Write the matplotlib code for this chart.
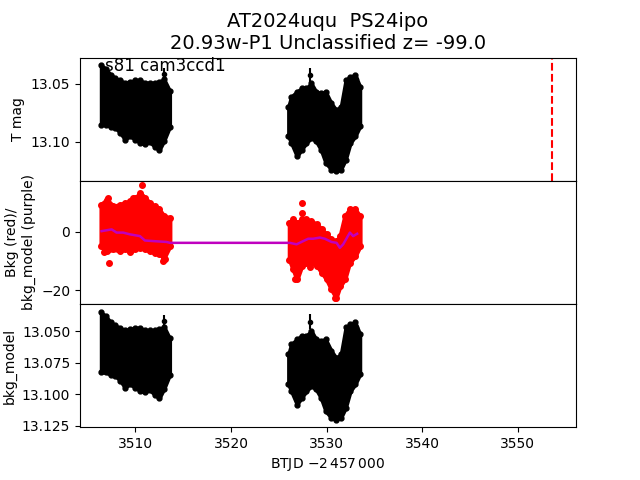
import matplotlib
matplotlib.use("Agg")
import matplotlib.pyplot as plt
import numpy as np

title_text = "AT2024uqu  PS24ipo\n20.93w-P1 Unclassified z= -99.0"
sector_text = "s81 cam3ccd1"
t_event = 3553.64

# light curve envelopes (T mag)
t1 = [3506.4, 3506.9, 3507.4, 3507.9, 3508.4, 3508.9, 3509.4, 3510.0,
      3510.5, 3511.0, 3511.5, 3512.0, 3512.5, 3513.0, 3513.6]
mag1_hi = [13.0337, 13.037, 13.042, 13.045, 13.047, 13.049, 13.048, 13.047,
           13.047, 13.049, 13.049, 13.049, 13.048, 13.046, 13.056]
mag1_lo = [13.085, 13.085, 13.087, 13.088, 13.092, 13.098, 13.095, 13.098,
           13.101, 13.102, 13.100, 13.104, 13.107, 13.099, 13.087]

t2 = [3526.0, 3526.3, 3526.9, 3527.4, 3527.9, 3528.4, 3528.9, 3529.4,
      3529.9, 3530.5, 3531.0, 3531.5, 3532.0, 3532.5, 3533.0, 3533.5]
mag2_hi = [13.0695, 13.061, 13.0566, 13.0537, 13.0537, 13.0494, 13.0566, 13.058,
           13.0566, 13.0666, 13.0723, 13.0695, 13.0466, 13.0437, 13.0423, 13.0523]
mag2_lo = [13.0952, 13.1009, 13.1124, 13.1066, 13.1009, 13.0966, 13.0995, 13.1066,
           13.118, 13.1238, 13.1252, 13.1238, 13.1152, 13.1009, 13.0952, 13.0866]

# a few points sticking out with error bars
t_spike = [3513.0, 3528.25, 3533.1]
mag_spike = [13.0417, 13.0423, 13.046]
err_spike = [0.005, 0.006, 0.004]

# bottom panel envelopes (bkg_model)
bm1_hi = [13.0348, 13.0379, 13.0426, 13.0453, 13.0472, 13.0491, 13.0481, 13.0472,
          13.0472, 13.0491, 13.0491, 13.0491, 13.0481, 13.0463, 13.0556]
bm1_lo = [13.0826, 13.0826, 13.0844, 13.0854, 13.0891, 13.0947, 13.0919, 13.0947,
          13.0975, 13.0984, 13.0965, 13.1003, 13.1030, 13.0956, 13.0844]
bm2_hi = [13.0681, 13.0602, 13.0561, 13.0534, 13.0534, 13.0494, 13.0561, 13.0574,
          13.0561, 13.0654, 13.0708, 13.0681, 13.0468, 13.0441, 13.0428, 13.0521]
bm2_lo = [13.0921, 13.0974, 13.1081, 13.1027, 13.0974, 13.0934, 13.0961, 13.1027,
          13.1133, 13.1187, 13.1200, 13.1187, 13.1107, 13.0974, 13.0921, 13.0841]
bm_spike = [13.0420, 13.0425, 13.0462]

# background (red) envelopes
tb1 = [3506.4, 3507.0, 3507.7, 3508.4, 3508.9, 3509.4, 3510.0, 3510.5,
       3511.0, 3511.5, 3512.0, 3512.5, 3513.0, 3513.6]
bkg1_hi = [9.3, 11.0, 8.7, 9.3, 9.9, 10.4, 11.6, 13.3, 11.6, 9.9, 8.7, 7.6, 5.3, 4.8]
bkg1_lo = [-4.9, -6.6, -6.0, -6.6, -6.0, -6.6, -6.0, -5.5, -6.0, -6.6, -7.2, -7.7, -8.9, -4.9]

tb2 = [3526.1, 3526.5, 3526.9, 3527.4, 3527.9, 3528.4, 3529.0, 3529.5,
       3530.0, 3530.5, 3531.0, 3531.4, 3531.9, 3532.4, 3533.0, 3533.5]
bkg2_hi = [3.1, 4.2, 3.1, 4.2, 4.2, 3.6, 2.5, 0.8, -0.9, -2.6, -3.2, -1.5, 5.3, 7.6, 7.6, 5.3]
bkg2_lo = [-9.5, -12.9, -16.3, -11.7, -10.6, -10.6, -11.7, -14.0,
           -16.3, -19.7, -22.5, -18.6, -16.3, -10.6, -8.3, -4.9]

t_out = [3507.26, 3506.72, 3510.65, 3507.15, 3512.85, 3509.77, 3513.1, 3509.4,
         3527.38, 3527.38, 3528.26, 3526.7, 3530.9]
bkg_out = [-10.6, -7.0, 15.8, 11.4, -10.0, 11.4, -9.2, -7.0,
           9.7, 6.5, -12.0, -16.0, -22.5]

# bkg_model (purple)
t_model = [3506.46, 3507.51, 3508.03, 3508.72, 3509.42, 3510.47, 3510.99, 3511.86,
           3513.26, 3513.61, 3526.16, 3526.86, 3527.56, 3528.08, 3528.6, 3529.3,
           3529.82, 3530.52, 3531.05, 3531.39, 3531.74, 3532.44, 3532.78, 3533.2]
bkg_model = [0.2, 0.8, -0.3, -0.3, -0.9, -1.5, -3.0, -3.2,
             -3.5, -3.8, -3.8, -4.3, -3.2, -2.4, -2.4, -2.0,
             -2.4, -3.5, -3.8, -5.5, -4.3, -0.3, -1.5, -0.7]

fig, (ax1, ax2, ax3) = plt.subplots(3, 1, sharex=True, figsize=(6.4, 4.8), dpi=100)
fig.subplots_adjust(hspace=0)

# top: light curve
for t, hi, lo in [(t1, mag1_hi, mag1_lo), (t2, mag2_hi, mag2_lo)]:
    ax1.fill_between(t, hi, lo, color="k", lw=2.5, edgecolor="k")
    ax1.plot(t, hi, "k.", ms=7)
    ax1.plot(t, lo, "k.", ms=7)
ax1.errorbar(t_spike, mag_spike, yerr=err_spike, fmt="k.", ms=6)
ax1.axvline(t_event, color="r", ls="--", lw=1.5)
ax1.set_ylim(13.1334, 13.0274)
ax1.set_yticks([13.05, 13.10])
ax1.set_yticklabels(["13.05", "13.10"])
ax1.set_ylabel("T mag")
ax1.text(0.05, 0.895, sector_text, transform=ax1.transAxes, fontsize=12, va="baseline")
ax1.set_title(title_text, fontsize=14)

# middle: background
for t, hi, lo in [(tb1, bkg1_hi, bkg1_lo), (tb2, bkg2_hi, bkg2_lo)]:
    ax2.fill_between(t, hi, lo, color="r", lw=3, edgecolor="r")
    ax2.plot(t, hi, "r.", ms=8)
    ax2.plot(t, lo, "r.", ms=8)
ax2.plot(t_out, bkg_out, "r.", ms=8)
ax2.plot(t_model, bkg_model, color="m", lw=1.8)
ax2.set_ylim(-24.7, 17.4)
ax2.set_yticks([0, -20])
ax2.set_ylabel("Bkg (red)/\nbkg_model (purple)")

# bottom: bkg_model
for t, hi, lo in [(t1, bm1_hi, bm1_lo), (t2, bm2_hi, bm2_lo)]:
    ax3.fill_between(t, hi, lo, color="k", lw=2.5, edgecolor="k")
    ax3.plot(t, hi, "k.", ms=7)
    ax3.plot(t, lo, "k.", ms=7)
ax3.errorbar(t_spike, bm_spike, yerr=err_spike, fmt="k.", ms=6)
ax3.set_ylim(13.126, 13.0283)
ax3.set_yticks([13.050, 13.075, 13.100, 13.125])
ax3.set_yticklabels(["13.050", "13.075", "13.100", "13.125"])
ax3.set_ylabel("bkg_model")
ax3.set_xlim(3504.2, 3556.1)
ax3.set_xticks([3510, 3520, 3530, 3540, 3550])
ax3.set_xlabel(r"BTJD $-2\,457\,000$")

fig.savefig("out.png", dpi=100)
